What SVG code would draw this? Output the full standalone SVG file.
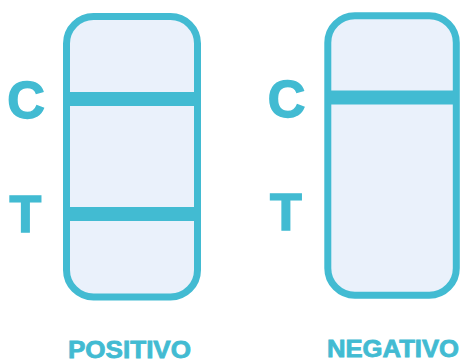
<svg xmlns="http://www.w3.org/2000/svg" width="460" height="359" viewBox="0 0 460 359">
<style>
.strip{fill:#EAF1FB;stroke:#42BBD2;stroke-width:7}
.band{stroke:#42BBD2;stroke-width:14}
.big{font-family:"Liberation Sans",Arial,sans-serif;font-weight:bold;font-size:52px;fill:#42BBD2;stroke:#42BBD2;stroke-width:1.5;text-anchor:middle}
.lbl{font-family:"Liberation Sans",Arial,sans-serif;font-weight:bold;font-size:23.5px;fill:#42BBD2;stroke:#42BBD2;stroke-width:0.8;text-anchor:middle}
</style>
<rect width="460" height="359" fill="#ffffff"/>
<g id="positivo">
<rect class="strip" x="66.5" y="16.5" width="131" height="280.5" rx="27"/>
<line class="band" x1="66.5" y1="99" x2="197.5" y2="99"/>
<line class="band" x1="66.5" y1="214" x2="197.5" y2="214"/>
<text class="big" x="26" y="118">C</text>
<text class="big" x="25.5" y="232">T</text>
<text class="lbl" x="129.5" y="358" textLength="123" lengthAdjust="spacingAndGlyphs">POSITIVO</text>
</g>
<g id="negativo">
<rect class="strip" x="327.8" y="15.7" width="128.5" height="279.5" rx="27"/>
<line class="band" x1="327.8" y1="97.5" x2="456.3" y2="97.5"/>
<text class="big" x="286.5" y="116.5">C</text>
<text class="big" x="286" y="230">T</text>
<text class="lbl" x="393" y="356.5" textLength="132" lengthAdjust="spacingAndGlyphs">NEGATIVO</text>
</g>
<g id="connectors"/>
</svg>
